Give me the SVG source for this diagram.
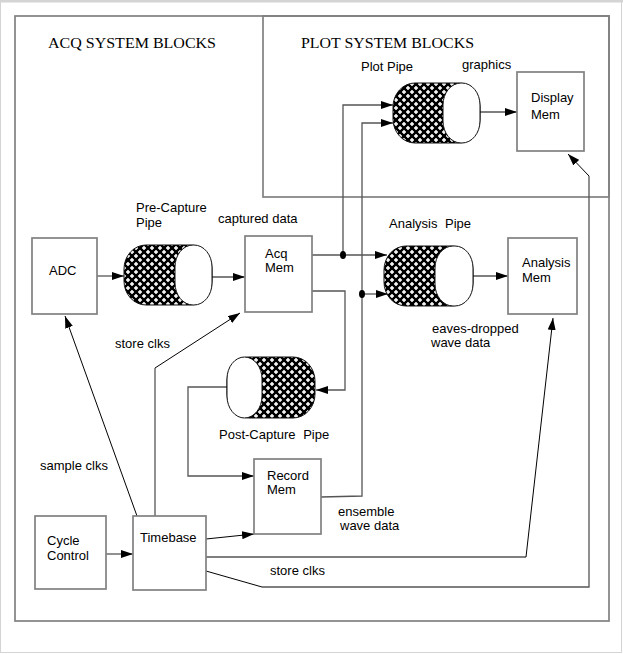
<svg xmlns="http://www.w3.org/2000/svg" width="623" height="654" viewBox="0 0 623 654">
<style>
.box{fill:#fff;stroke:#808080;stroke-width:1.7}
.frame{fill:none;stroke:#808080;stroke-width:1.7}
.t{font-family:"Liberation Sans",Arial,sans-serif;font-size:13px;fill:#000}
.h{font-family:"Liberation Serif","Times New Roman",serif;font-size:15px;fill:#000}
.c{fill:none;stroke:#555;stroke-width:1.3}
.d{fill:none;stroke:#000;stroke-width:1}
.pipe{fill:url(#hatch);stroke:#111;stroke-width:1}
.cap{fill:#fff;stroke:#111;stroke-width:1}
</style>
<defs>
<pattern id="hatch" width="8" height="8" patternUnits="userSpaceOnUse">
<rect width="8" height="8" fill="#000"/>
<path d="M4,2v4M2,4h4M0,-2v4M-2,0h4M8,-2v4M6,0h4M0,6v4M-2,8h4M8,6v4M6,8h4" stroke="#fff" stroke-width="1.5"/>
</pattern>
<marker id="ah" markerWidth="12" markerHeight="8" refX="12" refY="4" orient="auto" markerUnits="userSpaceOnUse">
<path d="M0,0L12,4L0,8z" fill="#000"/>
</marker>
</defs>
<rect x="0" y="0" width="623" height="654" fill="#fff"/>
<rect x="0.5" y="1.5" width="621" height="651" fill="none" stroke="#d4d4d4" stroke-width="1"/>
<rect x="0" y="0" width="623" height="2.5" fill="#d4d4d4"/>

<g id="acq-frame">
<rect class="frame" x="15" y="16" width="594" height="605"/>
<text class="h" x="48" y="48" textLength="168" lengthAdjust="spacingAndGlyphs">ACQ SYSTEM BLOCKS</text>
</g>
<g id="plot-frame">
<rect class="frame" x="263" y="16" width="346" height="181"/>
<text class="h" x="301" y="48" textLength="173" lengthAdjust="spacingAndGlyphs">PLOT SYSTEM BLOCKS</text>
</g>

<g id="connectors">
<path class="c" d="M97,276H124" marker-end="url(#ah)"/>
<path class="c" d="M199,277H245" marker-end="url(#ah)"/>
<path class="c" d="M312,255H387" marker-end="url(#ah)"/>
<path class="c" d="M343,255V105H393" marker-end="url(#ah)"/>
<ellipse cx="343" cy="255" rx="3" ry="4" fill="#000"/>
<path class="c" d="M312,291H345V390H316" marker-end="url(#ah)"/>
<path class="c" d="M239,387H188V476H254" marker-end="url(#ah)"/>
<path class="c" d="M321,497L362,496V123H393" marker-end="url(#ah)"/>
<path class="c" d="M362,294H388" marker-end="url(#ah)"/>
<ellipse cx="362" cy="294" rx="3" ry="4" fill="#000"/>
<path class="c" d="M462,276H508" marker-end="url(#ah)"/>
<path class="c" d="M469,112H517" marker-end="url(#ah)"/>
<path class="c" d="M106,554H133" marker-end="url(#ah)"/>
<path class="d" d="M137,516L65,316" marker-end="url(#ah)"/>
<path class="c" d="M155,516V368"/>
<path class="d" d="M155,368L240,313" marker-end="url(#ah)"/>
<path class="d" d="M206,539L254,534" marker-end="url(#ah)"/>
<path class="c" d="M206,557H526"/>
<path class="d" d="M526,557L553,318" marker-end="url(#ah)"/>
<path class="d" d="M206,571L262,587"/>
<path class="c" d="M262,587H589V176"/>
<path class="d" d="M589,176L568,154" marker-end="url(#ah)"/>
</g>

<g id="adc">
<rect class="box" x="32" y="238" width="65" height="76"/>
<text class="t" x="49" y="275">ADC</text>
</g>
<g id="pre-capture-pipe">
<rect class="pipe" x="124" y="245" width="88" height="60" rx="22" ry="24"/>
<rect class="cap" x="175" y="245" width="37" height="60" rx="18" ry="22"/>
<text class="t" x="136" y="212">Pre-Capture</text>
<text class="t" x="136" y="227">Pipe</text>
</g>
<text class="t" x="218" y="223">captured data</text>
<g id="acq-mem">
<rect class="box" x="245" y="236" width="67" height="76"/>
<text class="t" x="265" y="258">Acq</text>
<text class="t" x="265" y="272">Mem</text>
</g>
<g id="plot-pipe">
<rect class="pipe" x="393" y="83" width="87" height="60" rx="22" ry="24"/>
<rect class="cap" x="443" y="83" width="37" height="60" rx="18" ry="22"/>
<text class="t" x="361" y="71">Plot Pipe</text>
</g>
<text class="t" x="462" y="69">graphics</text>
<g id="display-mem">
<rect class="box" x="517" y="72" width="67" height="79"/>
<text class="t" x="531" y="102">Display</text>
<text class="t" x="531" y="119">Mem</text>
</g>
<g id="analysis-pipe">
<rect class="pipe" x="384" y="246" width="89" height="60" rx="22" ry="24"/>
<rect class="cap" x="435" y="246" width="38" height="60" rx="18" ry="22"/>
<text class="t" x="389" y="228" style="word-spacing:4px">Analysis Pipe</text>
</g>
<g id="analysis-mem">
<rect class="box" x="508" y="238" width="69" height="76"/>
<text class="t" x="522" y="267">Analysis</text>
<text class="t" x="522" y="282">Mem</text>
</g>
<text class="t" x="432" y="333">eaves-dropped</text>
<text class="t" x="431" y="347">wave data</text>
<g id="post-capture-pipe">
<rect class="pipe" x="227" y="357" width="88" height="61" rx="22" ry="24"/>
<rect class="cap" x="227" y="357" width="35" height="61" rx="18" ry="22"/>
<text class="t" x="219" y="439" style="word-spacing:4px">Post-Capture Pipe</text>
</g>
<g id="record-mem">
<rect class="box" x="254" y="459" width="67" height="75"/>
<text class="t" x="267" y="480">Record</text>
<text class="t" x="267" y="494">Mem</text>
</g>
<text class="t" x="338" y="516">ensemble</text>
<text class="t" x="340" y="530">wave data</text>
<text class="t" x="115" y="348">store clks</text>
<text class="t" x="40" y="470">sample clks</text>
<g id="cycle-control">
<rect class="box" x="35" y="516" width="71" height="73"/>
<text class="t" x="47" y="545">Cycle</text>
<text class="t" x="47" y="560">Control</text>
</g>
<g id="timebase">
<rect class="box" x="133" y="516" width="73" height="74"/>
<text class="t" x="140" y="542">Timebase</text>
</g>
<text class="t" x="270" y="575">store clks</text>
</svg>
